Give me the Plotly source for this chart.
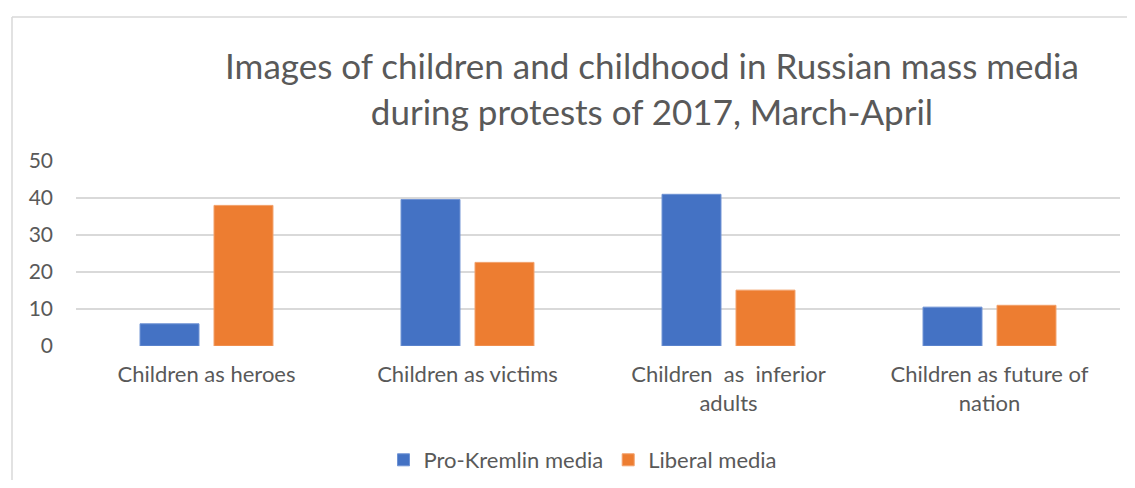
import plotly.graph_objects as go

categories = ["Children as heroes", "Children as victims",
              "Children  as  inferior<br>adults", "Children as future of<br>nation"]
pro_kremlin = [6, 39.6, 41, 10.5]
liberal = [38, 22.6, 15.1, 11]
series_names = ["Pro-Kremlin media", "Liberal media"]
y_ticks = [0, 10, 20, 30, 40, 50]

# page body has an 8px margin; figure sized so page == window
OFF = 8
W, H = 1135 - 2 * OFF, 488 - 2 * OFF
L = 76 - OFF
T = 161 - OFF
R = (OFF + W) - 1120
B = (OFF + H) - 346
pw = W - L - R
ph = H - T - B

def px_x(x):  # page px -> paper x
    return (x - OFF - L) / pw

def px_y(y):  # page px -> paper y
    return (OFF + T + ph - y) / ph

FONT = "Lato"
GREY = "#595959"
BORDER = "#D9D9D9"

fig = go.Figure()
fig.add_trace(go.Bar(x=categories, y=pro_kremlin, name=series_names[0],
                     marker=dict(color="#4472C4", line=dict(color="#6F93D4", width=1))))
fig.add_trace(go.Bar(x=categories, y=liberal, name=series_names[1],
                     marker=dict(color="#ED7D31", line=dict(color="#F2A06A", width=1))))

# outer chart border: only left and top edges are visible in the picture
fig.add_shape(type="line", xref="paper", yref="paper",
              x0=px_x(12), x1=px_x(12), y0=px_y(600), y1=px_y(17),
              line=dict(color=BORDER, width=1.5), layer="below")
fig.add_shape(type="line", xref="paper", yref="paper",
              x0=px_x(12), x1=px_x(1300), y0=px_y(17), y1=px_y(17),
              line=dict(color=BORDER, width=1.5), layer="below")

fig.update_layout(
    width=W, height=H,
    margin=dict(l=L, r=R, t=T, b=B, autoexpand=False),
    paper_bgcolor="white", plot_bgcolor="white",
    font=dict(family=FONT, color=GREY, size=22),
    title=dict(text="Images of children and childhood in Russian mass media<br>during protests of 2017, March-April",
               x=(652 - OFF) / W, xanchor="center", y=1 - 71 / H, yanchor="middle",
               font=dict(family=FONT, size=35, color=GREY)),
    barmode="group", bargap=0.433, bargroupgap=0.203,
    showlegend=True,
    legend=dict(orientation="h", x=px_x(583), xanchor="center",
                y=px_y(460), yanchor="middle",
                font=dict(family=FONT, size=22, color=GREY),
                itemwidth=30, traceorder="normal"),
    xaxis=dict(showgrid=False, showline=False, ticks="", zeroline=False,
               tickfont=dict(family=FONT, size=22, color=GREY), ticklabelstandoff=13),
    yaxis=dict(range=[0, 50], tickvals=y_ticks, showgrid=True, gridcolor="#D9D9D9", gridwidth=1.5,
               zeroline=False, showline=False, ticks="",
               tickfont=dict(family=FONT, size=21, color=GREY), ticklabelstandoff=22),
)

fig.write_html("out.html")
